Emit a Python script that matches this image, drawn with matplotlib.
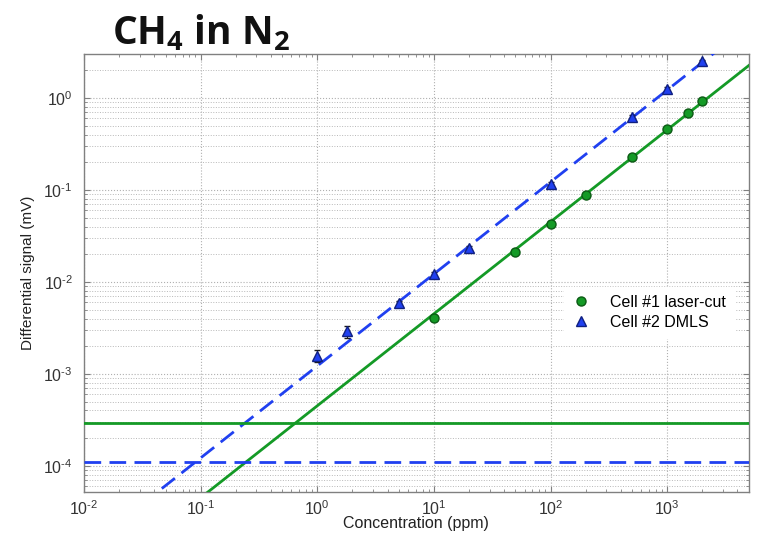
import matplotlib
matplotlib.use("Agg")
import matplotlib.pyplot as plt
import numpy as np
from matplotlib.ticker import LogLocator, NullFormatter, FuncFormatter
from matplotlib.lines import Line2D

plt.rcParams['font.family'] = ['Liberation Sans', 'DejaVu Sans']
plt.rcParams['mathtext.default'] = 'regular'
plt.rcParams['axes.unicode_minus'] = False

# Cell #1 laser-cut (green circles)
cell1_x = [10, 50, 100, 200, 500, 1000, 1500, 2000]
cell1_y = [0.0041, 0.021, 0.043, 0.089, 0.23, 0.46, 0.69, 0.92]
cell1_err = [0.0002, 0.001, 0.002, 0.004, 0.01, 0.02, 0.03, 0.04]

# Cell #2 DMLS (blue triangles)
cell2_x = [1, 1.8, 5, 10, 20, 100, 500, 1000, 2000]
cell2_y = [0.00158, 0.0029, 0.0059, 0.0121, 0.0235, 0.117, 0.62, 1.25, 2.5]
cell2_err = [0.00024, 0.00045, 0.0003, 0.0007, 0.001, 0.005, 0.025, 0.05, 0.1]

# Linear fits (signal = slope * concentration) and noise floors
fit_x = [0.01, 5000]
cell1_slope = 4.5e-4
cell2_slope = 1.22e-3
cell1_noise = 2.95e-4
cell2_noise = 1.1e-4

green = '#149a26'
blue = '#2040f0'
dash = (0, (6, 3))

fig = plt.figure(figsize=(7.64, 5.34), dpi=100)
ax = fig.add_axes([0.110, 0.0787, 0.870, 0.820])

fx = np.array(fit_x)
ax.plot(fx, cell1_slope * fx, color=green, lw=2, zorder=3)
ax.plot(fx, cell2_slope * fx, color=blue, lw=2, ls=dash, zorder=3)
ax.axhline(cell1_noise, color=green, lw=2, zorder=3)
ax.axhline(cell2_noise, color=blue, lw=2, ls=dash, zorder=3)

ax.errorbar(cell1_x, cell1_y, yerr=cell1_err, fmt='o', color=green, mec='#0b5a14',
            ms=6.5, ecolor='#1a1a1a', elinewidth=0.8, capsize=2.5, zorder=4)
ax.errorbar(cell2_x, cell2_y, yerr=cell2_err, fmt='^', color=blue, mec='#102080',
            ms=7.5, ecolor='#1a1a1a', elinewidth=0.8, capsize=2.5, zorder=4)

ax.set_xscale('log')
ax.set_yscale('log')
ax.set_xlim(1e-2, 5000)
ax.set_ylim(5.2e-5, 3.0)


def dec_fmt(v, pos):
    e = int(round(np.log10(v)))
    s = str(e).replace('-', '\u2010')
    return '10$^{' + s + '}$'


ax.xaxis.set_major_locator(LogLocator(base=10, numticks=20))
ax.xaxis.set_major_formatter(FuncFormatter(dec_fmt))
ax.xaxis.set_minor_locator(LogLocator(base=10, subs=np.arange(2, 10), numticks=100))
ax.xaxis.set_minor_formatter(NullFormatter())
ax.yaxis.set_major_locator(LogLocator(base=10, numticks=20))
ax.yaxis.set_major_formatter(FuncFormatter(dec_fmt))
ax.yaxis.set_minor_locator(LogLocator(base=10, subs=np.arange(2, 10), numticks=100))
ax.yaxis.set_minor_formatter(NullFormatter())

ax.grid(True, which='major', axis='both', ls=':', color='#b0b0b0', lw=0.8)
ax.grid(True, which='minor', axis='y', ls=':', color='#b8b8b8', lw=0.7)
ax.set_axisbelow(True)

for s in ax.spines.values():
    s.set_color('#808080')
    s.set_linewidth(1.0)
ax.tick_params(which='both', direction='in', top=True, right=True, colors='#808080',
               labelcolor='#333333', labelsize=11.5)
ax.tick_params(which='major', length=4)
ax.tick_params(which='minor', length=2.5)
ax.tick_params(axis='x', which='major', pad=5)
ax.tick_params(axis='y', which='major', pad=8)

ax.set_xlabel('Concentration (ppm)', fontsize=11.5, color='#222222', labelpad=-1)
ax.set_ylabel('Differential signal (mV)', fontsize=11, color='#222222', labelpad=6)

handles = [Line2D([], [], ls='none', marker='o', color=green, mec='#0b5a14', ms=6.5),
           Line2D([], [], ls='none', marker='^', color=blue, mec='#102080', ms=7.5)]
leg = ax.legend(handles, ['Cell #1 laser-cut', 'Cell #2 DMLS'], loc='center right',
                bbox_to_anchor=(0.99, 0.41), frameon=True, fontsize=11.5,
                handletextpad=1.2, handlelength=1.2, borderpad=0.5, labelspacing=0.3)
leg.get_frame().set_edgecolor('white')
leg.get_frame().set_facecolor('white')
leg.get_frame().set_alpha(1)

fig.text(0.147, 1 - 44 / 534, 'CH$_4$ in N$_2$', fontsize=28, fontweight='bold',
         family=['Open Sans', 'DejaVu Sans'], color='#111111', va='baseline', ha='left')

fig.savefig('out.png', dpi=100)
